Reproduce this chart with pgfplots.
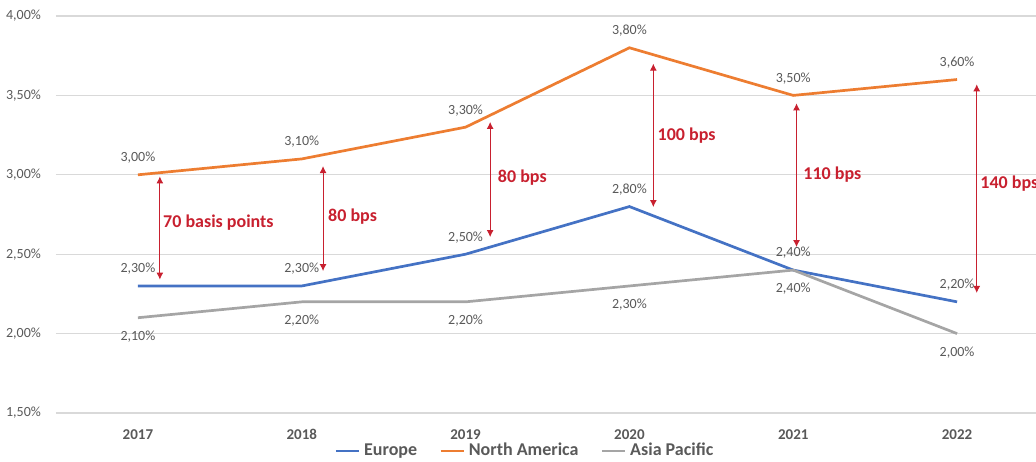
\documentclass[border=0pt]{standalone}
\usepackage{pgfplots}
\pgfplotsset{compat=1.18}
\usepackage{fontspec}
\setmainfont{Carlito}
\usetikzlibrary{arrows.meta}

\definecolor{eublue}{HTML}{4472C4}
\definecolor{naorange}{HTML}{ED7D31}
\definecolor{apgray}{HTML}{A5A5A5}
\definecolor{txtgray}{HTML}{595959}
\definecolor{gridgray}{HTML}{D9D9D9}
\definecolor{bpsred}{HTML}{C8202F}

\begin{document}
\begin{tikzpicture}
\begin{axis}[
  name=main,
  scale only axis, width=491.5pt, height=198.5pt,
  xmin=-0.5, xmax=5.5, ymin=1.5, ymax=4.0,
  clip=false,
  xtick={0,...,5},
  xticklabels={2017,2018,2019,2020,2021,2022},
  ytick={1.5,2.0,2.5,3.0,3.5,4.0},
  yticklabel={\pgfmathprintnumber[fixed,fixed zerofill,precision=2,use comma]{\tick}\%},
  /pgf/number format/assume math mode=true,
  ymajorgrids, grid style={draw=gridgray, line width=0.6pt},
  axis line style={draw=none},
  major tick length=0pt,
  xticklabel style={font=\fontsize{7.5}{9}\selectfont\bfseries, text=txtgray,
    text height=5.5pt, text depth=0pt, yshift=-4pt},
  yticklabel style={font=\fontsize{7}{8}\selectfont, text=txtgray, xshift=-4pt},
  every axis plot/.append style={line width=1.35pt, mark=none},
  nodes near coords={\pgfmathprintnumber[fixed,fixed zerofill,precision=2,use comma]{\pgfplotspointmeta}\%},
  every node near coord/.append style={font=\fontsize{7}{8}\selectfont, text=txtgray, inner sep=1pt, anchor=south, yshift=4pt},
  legend style={at={(0.478,0)}, anchor=center, yshift=-19pt, draw=none, fill=none,
    font=\fontsize{9}{10}\selectfont\bfseries, text=txtgray,
    /tikz/every even column/.append style={column sep=9pt}},
  legend columns=3,
  legend image code/.code={\draw[#1] (0pt,0pt) -- (11.5pt,0pt);},
]
\addplot[eublue] coordinates {(0,2.3) (1,2.3) (2,2.5) (3,2.8) (4,2.4) (5,2.2)};
\addlegendentry{Europe}
\addplot[naorange] coordinates {(0,3.0) (1,3.1) (2,3.3) (3,3.8) (4,3.5) (5,3.6)};
\addlegendentry{North America}
\addplot[apgray, every node near coord/.append style={anchor=north, yshift=-9pt}]
  coordinates {(0,2.1) (1,2.2) (2,2.2) (3,2.3) (4,2.4) (5,2.0)};
\addlegendentry{Asia Pacific}

% spread arrows and labels
\begin{scope}[bpsred, line width=0.5pt, {Latex[length=3.5pt,width=3.5pt]}-{Latex[length=3.5pt,width=3.5pt]}]
\draw (axis cs:0.134,2.99) -- (axis cs:0.134,2.34);
\draw (axis cs:1.13,3.055) -- (axis cs:1.13,2.394);
\draw (axis cs:2.15,3.333) -- (axis cs:2.15,2.608);
\draw (axis cs:3.146,3.70) -- (axis cs:3.146,2.797);
\draw (axis cs:4.02,3.45) -- (axis cs:4.02,2.545);
\draw (axis cs:5.12,3.57) -- (axis cs:5.12,2.256);
\end{scope}
\begin{scope}[every node/.style={anchor=west, inner sep=0pt, text=bpsred, font=\fontsize{9}{10}\selectfont\bfseries}]
\node at (axis cs:0.152,2.697) {70 basis points};
\node at (axis cs:1.159,2.734) {80 bps};
\node at (axis cs:2.195,2.98) {80 bps};
\node at (axis cs:3.17,3.244) {100 bps};
\node at (axis cs:4.06,2.999) {110 bps};
\node at (axis cs:5.14,2.942) {140 bps};
\end{scope}
\end{axis}
\pgfresetboundingbox
\path ([shift={(-28pt,-24pt)}]main.south west) rectangle ++(518pt,230.5pt);
\end{tikzpicture}
\end{document}
